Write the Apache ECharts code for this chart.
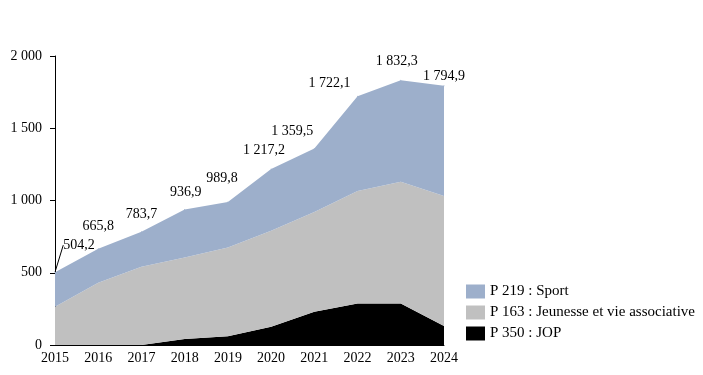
<!DOCTYPE html>
<html>
<head>
<meta charset="utf-8">
<script src="https://cdn.jsdelivr.net/npm/echarts@6/dist/echarts.min.js"></script>
<style>
  html, body { margin: 0; padding: 0; background: #fff; }
  #chart { width: 703px; height: 375px; }
</style>
</head>
<body>
<div id="chart"></div>
<script>
var years = ['2015', '2016', '2017', '2018', '2019', '2020', '2021', '2022', '2023', '2024'];
var jopData = [0, 0, 0, 41, 60, 127, 230, 288, 288, 131];
var jeunesseData = [265, 431, 541, 565, 615, 663, 691, 778, 841, 901];
var sportData = [239.2, 234.8, 242.7, 330.9, 314.8, 427.2, 438.5, 656.1, 703.3, 762.9];

// decalage des etiquettes de total (en px) pour coller a l'original
var labelOffsets = [[24, -27], [0, -22], [0, -17], [1, -17], [-6, -24], [-7, -19], [-22, -17], [-28, -13], [-4, -19], [0, -9]];

var serif = '"Liberation Serif", "DejaVu Serif", serif';

function frNumber(v) {
    var parts = v.toFixed(1).split('.');
    var ent = parts[0].replace(/\B(?=(\d{3})+(?!\d))/g, ' ');
    return ent + ',' + parts[1];
}

var sportSeriesData = sportData.map(function (v, i) {
    var item = { value: v };
    if (i === 0) {
        item.labelLine = { show: true, lineStyle: { color: '#000', width: 1 } };
    }
    return item;
});

var chart = echarts.init(document.getElementById('chart'), null, { renderer: 'canvas' });

var option = {
    animation: false,
    grid: { left: 55, right: 259, top: 56, bottom: 30 },
    legend: {
        orient: 'vertical',
        left: 466,
        top: 284,
        padding: 0,
        itemWidth: 19,
        itemHeight: 14,
        itemGap: 6,
        icon: 'rect',
        data: ['P 219 : Sport', 'P 163 : Jeunesse et vie associative', 'P 350 : JOP'],
        textStyle: { fontFamily: serif, fontSize: 15, color: '#000' }
    },
    xAxis: {
        type: 'category',
        boundaryGap: false,
        data: years,
        axisLine: { lineStyle: { color: '#000', width: 1 } },
        axisTick: { show: false },
        axisLabel: { color: '#000', fontFamily: serif, fontSize: 14, margin: 6 }
    },
    yAxis: {
        type: 'value',
        min: 0,
        max: 2000,
        interval: 500,
        splitLine: { show: false },
        axisLine: { show: true, lineStyle: { color: '#000', width: 1 } },
        axisTick: { show: true, length: 5, lineStyle: { color: '#000' } },
        axisLabel: {
            color: '#000', fontFamily: serif, fontSize: 14, margin: 13,
            formatter: function (v) { return String(v).replace(/\B(?=(\d{3})+(?!\d))/g, ' '); }
        }
    },
    series: [
        {
            name: 'P 350 : JOP',
            type: 'line',
            stack: 'total',
            data: jopData,
            symbol: 'none',
            lineStyle: { width: 0 },
            itemStyle: { color: '#000000' },
            areaStyle: { color: '#000000', opacity: 1 }
        },
        {
            name: 'P 163 : Jeunesse et vie associative',
            type: 'line',
            stack: 'total',
            data: jeunesseData,
            symbol: 'none',
            lineStyle: { width: 0 },
            itemStyle: { color: '#c0c0c0' },
            areaStyle: { color: '#c0c0c0', opacity: 1 }
        },
        {
            name: 'P 219 : Sport',
            type: 'line',
            stack: 'total',
            data: sportSeriesData,
            symbol: 'circle',
            symbolSize: 1,
            showSymbol: true,
            showAllSymbol: true,
            lineStyle: { width: 0 },
            itemStyle: { color: '#9dafcb' },
            areaStyle: { color: '#9dafcb', opacity: 1 },
            label: {
                show: true,
                position: 'inside',
                color: '#000',
                fontFamily: serif,
                fontSize: 14,
                formatter: function (p) {
                    var i = p.dataIndex;
                    return frNumber(jopData[i] + jeunesseData[i] + sportData[i]);
                }
            },
            labelLayout: function (params) {
                var o = labelOffsets[params.dataIndex];
                return { dx: o[0], dy: o[1] };
            },
            labelLine: { show: false }
        }
    ]
};

chart.setOption(option);
</script>
</body>
</html>
